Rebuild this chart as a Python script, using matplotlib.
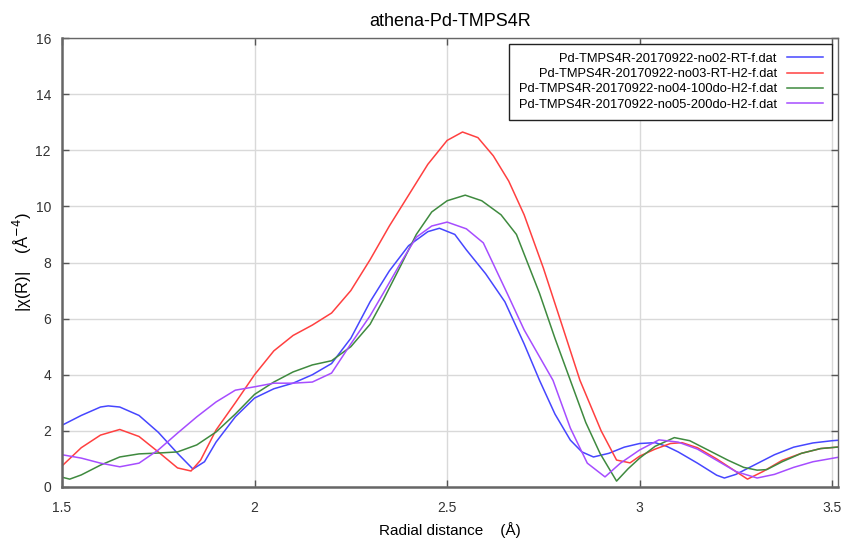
import matplotlib
matplotlib.use("Agg")
import matplotlib.pyplot as plt

plt.rcParams['font.family'] = ['Liberation Sans', 'DejaVu Sans']

title = "athena-Pd-TMPS4R"
labels = [
    "Pd-TMPS4R-20170922-no02-RT-f.dat",
    "Pd-TMPS4R-20170922-no03-RT-H2-f.dat",
    "Pd-TMPS4R-20170922-no04-100do-H2-f.dat",
    "Pd-TMPS4R-20170922-no05-200do-H2-f.dat",
]
colors = ["#4646ff", "#ff4040", "#3f8a3f", "#a64dff"]

x_blue = [1.50, 1.55, 1.60, 1.62, 1.65, 1.70, 1.75, 1.80, 1.84, 1.87, 1.90, 1.95, 2.00, 2.05, 2.10,
          2.15, 2.20, 2.25, 2.30, 2.35, 2.40, 2.45, 2.48, 2.52, 2.55, 2.60, 2.65, 2.70, 2.74, 2.78,
          2.82, 2.85, 2.88, 2.92, 2.96, 3.00, 3.04, 3.07, 3.10, 3.15, 3.20, 3.22, 3.25, 3.30, 3.35,
          3.40, 3.45, 3.50, 3.52]
y_blue = [2.2, 2.55, 2.85, 2.89, 2.85, 2.55, 1.95, 1.2, 0.64, 0.9, 1.6, 2.5, 3.17, 3.5, 3.7,
          4.0, 4.4, 5.3, 6.6, 7.7, 8.6, 9.1, 9.22, 9.0, 8.45, 7.6, 6.6, 5.1, 3.8, 2.6,
          1.67, 1.25, 1.07, 1.2, 1.42, 1.55, 1.58, 1.45, 1.25, 0.85, 0.42, 0.32, 0.45, 0.8, 1.15,
          1.42, 1.57, 1.65, 1.67]

x_red = [1.50, 1.55, 1.60, 1.65, 1.70, 1.75, 1.80, 1.835, 1.86, 1.90, 1.95, 2.00, 2.05, 2.10, 2.15,
         2.20, 2.25, 2.30, 2.35, 2.40, 2.45, 2.50, 2.54, 2.58, 2.62, 2.66, 2.70, 2.75, 2.80, 2.845,
         2.90, 2.94, 2.975, 3.00, 3.04, 3.08, 3.11, 3.15, 3.20, 3.25, 3.28, 3.32, 3.37, 3.42, 3.47, 3.52]
y_red = [0.75, 1.4, 1.85, 2.05, 1.8, 1.25, 0.68, 0.57, 0.96, 2.03, 3.0, 4.0, 4.85, 5.4, 5.77,
         6.2, 7.0, 8.1, 9.3, 10.4, 11.5, 12.35, 12.65, 12.45, 11.8, 10.9, 9.7, 7.8, 5.7, 3.8,
         2.0, 0.96, 0.86, 1.1, 1.35, 1.55, 1.58, 1.4, 1.0, 0.55, 0.28, 0.55, 0.95, 1.2, 1.37, 1.43]

x_green = [1.50, 1.52, 1.55, 1.60, 1.65, 1.70, 1.75, 1.80, 1.85, 1.90, 1.95, 2.00, 2.05, 2.10, 2.15,
           2.20, 2.25, 2.30, 2.334, 2.38, 2.42, 2.46, 2.50, 2.547, 2.59, 2.64, 2.68, 2.74, 2.78, 2.82,
           2.86, 2.897, 2.94, 2.97, 3.00, 3.04, 3.09, 3.13, 3.18, 3.23, 3.27, 3.305, 3.33, 3.37, 3.42,
           3.47, 3.52]
y_green = [0.35, 0.28, 0.43, 0.78, 1.07, 1.18, 1.21, 1.25, 1.5, 1.96, 2.6, 3.3, 3.74, 4.1, 4.35,
           4.5, 5.0, 5.8, 6.66, 7.9, 9.0, 9.8, 10.2, 10.4, 10.2, 9.7, 9.0, 6.9, 5.3, 3.8,
           2.3, 1.2, 0.21, 0.65, 1.03, 1.45, 1.76, 1.65, 1.3, 0.95, 0.7, 0.6, 0.62, 0.9, 1.2,
           1.37, 1.43]

x_purple = [1.50, 1.55, 1.60, 1.65, 1.70, 1.75, 1.80, 1.85, 1.90, 1.95, 2.00, 2.05, 2.10, 2.15, 2.20,
            2.25, 2.30, 2.334, 2.38, 2.42, 2.46, 2.50, 2.55, 2.594, 2.656, 2.70, 2.775, 2.82, 2.864, 2.91,
            2.95, 3.00, 3.05, 3.10, 3.15, 3.20, 3.25, 3.305, 3.35, 3.40, 3.45, 3.52]
y_purple = [1.15, 1.03, 0.85, 0.72, 0.85, 1.32, 1.92, 2.5, 3.03, 3.45, 3.57, 3.7, 3.7, 3.74, 4.06,
            5.1, 6.1, 6.9, 8.0, 8.9, 9.3, 9.44, 9.2, 8.7, 6.9, 5.6, 3.8, 2.1, 0.85, 0.36,
            0.85, 1.32, 1.68, 1.6, 1.35, 0.95, 0.55, 0.32, 0.45, 0.7, 0.9, 1.07]

x_ticks = [1.5, 2, 2.5, 3, 3.5]
x_tick_labels = ["1.5", "2", "2.5", "3", "3.5"]
y_ticks = [0, 2, 4, 6, 8, 10, 12, 14, 16]

fig = plt.figure(figsize=(8.41, 5.39), dpi=100)
ax = fig.add_axes([62 / 841, 1 - 487 / 539, (838 - 62) / 841, (487 - 38) / 539])

series = [(x_blue, y_blue), (x_red, y_red), (x_green, y_green), (x_purple, y_purple)]
for (xs, ys), c, lab in zip(series, colors, labels):
    ax.plot(xs, ys, color=c, lw=1.1, label=lab)

ax.set_xlim(1.5, 3.515)
ax.set_ylim(0, 16)
ax.set_xticks(x_ticks)
ax.set_xticklabels(x_tick_labels)
ax.set_yticks(y_ticks)
ax.grid(True, color="#d9d9d9", lw=1.0)
ax.set_axisbelow(True)
ax.tick_params(direction="in", length=5, width=1, colors="#555555", labelcolor="#333333",
               labelsize=10, top=True, right=True)
ax.tick_params(axis="x", pad=10)
ax.tick_params(axis="y", pad=8)
for s in ax.spines.values():
    s.set_color("#666666")
    s.set_linewidth(1.0)
ax.spines['left'].set_linewidth(1.8)
ax.spines['bottom'].set_linewidth(1.8)

ax.set_title(title, fontsize=13, pad=9)
ax.set_xlabel("Radial distance    (Å)", fontsize=11, labelpad=5)
ax.set_ylabel(r"|χ(R)|    (Å$^{-4}$)", fontsize=12, labelpad=1)

leg = ax.legend(loc="upper right", markerfirst=False, fontsize=9.3, frameon=True, fancybox=False,
                handlelength=2.8, borderpad=0.7, labelspacing=0.25, borderaxespad=0.45,
                handletextpad=0.8)
leg.get_frame().set_edgecolor("#222222")
leg.get_frame().set_linewidth(1.0)
leg.get_frame().set_alpha(1)

fig.savefig("out.png", dpi=100)
